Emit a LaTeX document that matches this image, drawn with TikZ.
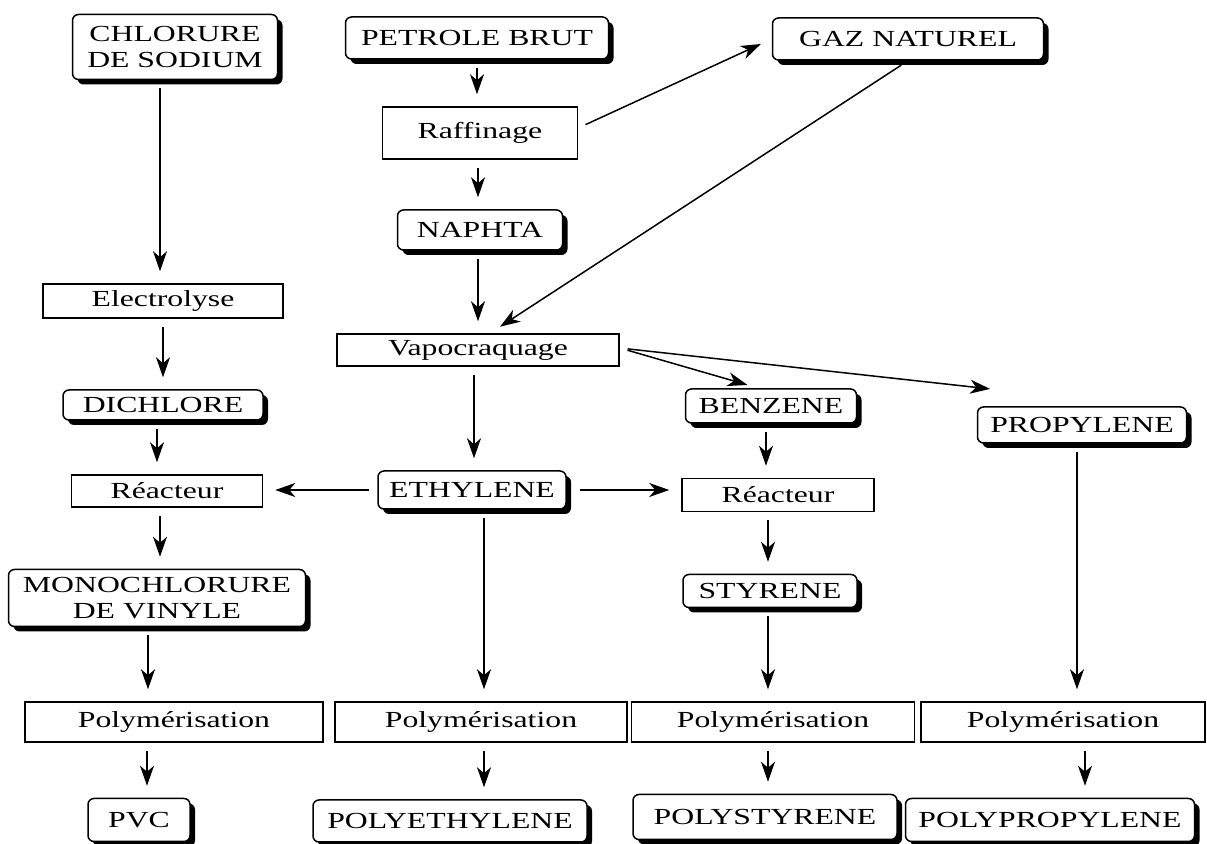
\documentclass[tikz,border=0pt]{standalone}
\usepackage{fontspec}
\setmainfont[FakeStretch=1.38]{Liberation Serif}
\usetikzlibrary{arrows.meta,shadows}
\tikzset{font={\fontsize{11.5pt}{13pt}\selectfont}}

\begin{document}
\begin{tikzpicture}[x=0.5pt,y=-0.5pt,line width=0.75pt,
    flow/.style={-{Stealth[length=10pt,width=7pt,inset=3pt]},shorten <=4pt,shorten >=6pt},
    prod node/.style={draw,rounded corners=3pt,fill=white,align=center,inner sep=2pt,
      drop shadow={shadow xshift=2.5pt,shadow yshift=-2.5pt,fill=black,opacity=1}},
    proc node/.style={draw,fill=white,inner sep=2pt}]
  \useasboundingbox (0,0) rectangle (1207,844);

  % chlorure branch
  \node[prod node,minimum width=102.5pt,minimum height=32.5pt] (chlorure) at (175,47) {CHLORURE\\DE SODIUM};
  \node[proc node,minimum width=120pt,minimum height=17pt] (electrolyse) at (163,301) {Electrolyse};
  \node[prod node,minimum width=100pt,minimum height=15pt] (dichlore) at (163,405) {DICHLORE};
  \node[proc node,minimum width=95.5pt,minimum height=16pt] (reacteurA) at (167,491) {Réacteur};
  \node[prod node,minimum width=148.5pt,minimum height=28.5pt] (monochlorure) at (157,598) {MONOCHLORURE\\DE VINYLE};
  \node[proc node,minimum width=149pt,minimum height=20pt] (polyA) at (174,722) {Polymérisation};
  \node[prod node,minimum width=51pt,minimum height=21.5pt] (pvc) at (139,820) {PVC};

  % petrole branch
  \node[prod node,minimum width=131.5pt,minimum height=21pt] (petrole) at (477,38) {PETROLE BRUT};
  \node[proc node,minimum width=97.5pt,minimum height=26pt] (raffinage) at (480,133) {Raffinage};
  \node[prod node,minimum width=82.5pt,minimum height=20pt] (naphta) at (480,230) {NAPHTA};
  \node[proc node,minimum width=141pt,minimum height=16pt] (vapo) at (478,350) {Vapocraquage};
  \node[prod node,minimum width=94pt,minimum height=19pt] (ethylene) at (472,490) {ETHYLENE};
  \node[proc node,minimum width=146pt,minimum height=20pt] (polyB) at (481,722) {Polymérisation};
  \node[prod node,minimum width=137pt,minimum height=21pt] (polyethylene) at (450,821) {POLYETHYLENE};

  \node[prod node,minimum width=135.5pt,minimum height=21pt] (gaz) at (908,39) {GAZ NATUREL};

  % benzene branch
  \node[prod node,minimum width=85.5pt,minimum height=17pt] (benzene) at (771,406) {BENZENE};
  \node[proc node,minimum width=96pt,minimum height=16.5pt] (reacteurB) at (778,495) {Réacteur};
  \node[prod node,minimum width=87pt,minimum height=16.5pt] (styrene) at (770,591) {STYRENE};
  \node[proc node,minimum width=141.5pt,minimum height=20pt] (polyC) at (773,722) {Polymérisation};
  \node[prod node,minimum width=132pt,minimum height=22.5pt] (polystyrene) at (765,817) {POLYSTYRENE};

  % propylene branch
  \node[prod node,minimum width=104.5pt,minimum height=18pt] (propylene) at (1082,425) {PROPYLENE};
  \node[proc node,minimum width=142pt,minimum height=20pt] (polyD) at (1063,722) {Polymérisation};
  \node[prod node,minimum width=144.5pt,minimum height=21.5pt] (polypropylene) at (1050,820) {POLYPROPYLENE};

  % vertical flows
  \foreach \a/\b/\d in {chlorure/electrolyse/-7.5, electrolyse/dichlore/0, dichlore/reacteurA/-3,
      reacteurA/monochlorure/-3.5, monochlorure/polyA/-4.5, polyA/pvc/-13.5,
      petrole/raffinage/0, raffinage/naphta/-1, naphta/vapo/-1, vapo/ethylene/-2,
      ethylene/polyB/6, polyB/polyethylene/1.5, benzene/reacteurB/-2.5, reacteurB/styrene/-5,
      styrene/polyC/-1, polyC/polystyrene/-2.5, propylene/polyD/-2.5, polyD/polypropylene/11}
    \draw[flow] ([xshift=\d pt]\a.south) -- ([xshift=\d pt]\a.south |- \b.north);

  \draw[flow] (ethylene.west) -- (ethylene.west -| reacteurA.east);
  \draw[flow] ([xshift=2.5pt]ethylene.east) -- (ethylene.east -| reacteurB.west);
  \draw[flow] ([yshift=2.5pt]raffinage.east) -- (gaz.west);
  \draw[flow] (gaz.south) -- ([xshift=6pt]vapo.north);
  \draw[flow] ([yshift=1pt]vapo.east) -- ([xshift=-6pt]benzene.north);
  \draw[flow] ([yshift=1pt]vapo.east) -- ([shift={(-40pt,8pt)}]propylene.north);
\end{tikzpicture}
\end{document}
